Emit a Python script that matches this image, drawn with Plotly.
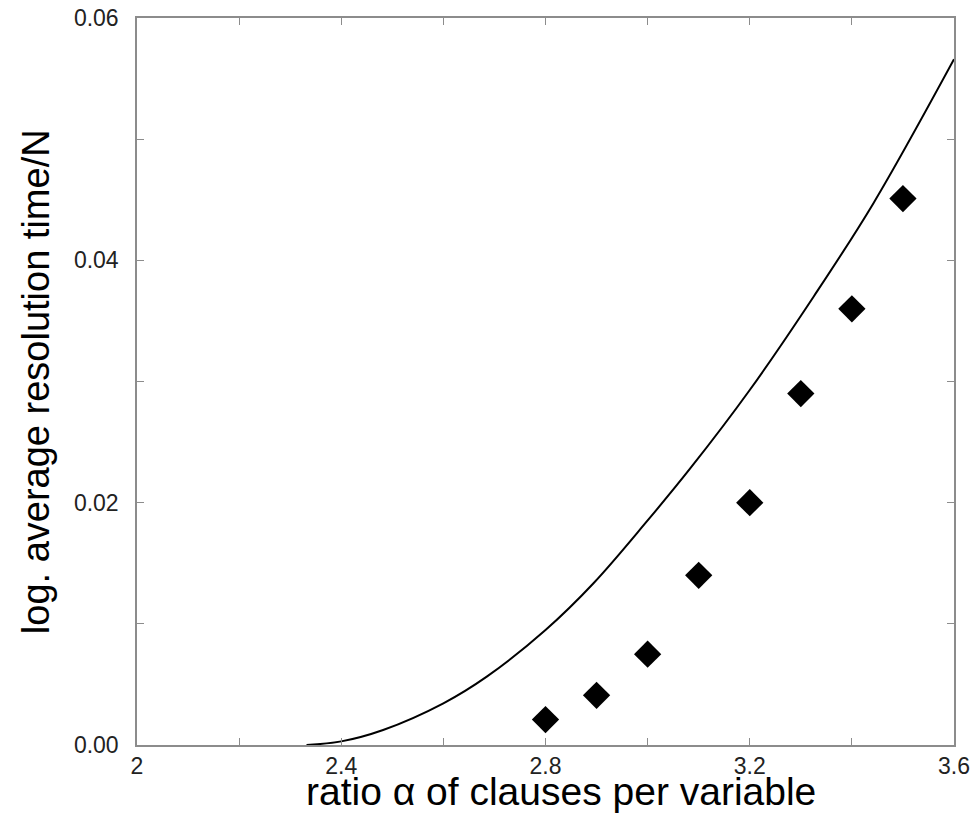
import plotly.graph_objects as go

# Measured data (diamonds)
alpha_points = [2.8, 2.9, 3.0, 3.1, 3.2, 3.3, 3.4, 3.5]
time_points = [0.0021, 0.0041, 0.0075, 0.0140, 0.0200, 0.0290, 0.0360, 0.0451]

# Theoretical curve
alpha_curve = [2.332, 2.40, 2.482, 2.60, 2.685, 2.80, 2.894, 2.998, 3.083, 3.20, 3.325, 3.442, 3.60]
time_curve = [0.0000, 0.0003, 0.00124, 0.00344, 0.00564, 0.00949, 0.01335, 0.01843, 0.0228, 0.0293, 0.0370, 0.0447, 0.0566]

x_ticks = [2, 2.4, 2.8, 3.2, 3.6]
x_ticklabels = ["2", "2.4", "2.8", "3.2", "3.6"]
y_ticks = [0.0, 0.02, 0.04, 0.06]
y_ticklabels = ["0.00", "0.02", "0.04", "0.06"]

x_title = "ratio \u03b1 of clauses per variable"
y_title = "log. average resolution time/N"

FONT = "Liberation Sans, Arial, sans-serif"

fig = go.Figure()
fig.add_trace(go.Scatter(
    x=alpha_curve, y=time_curve, mode="lines",
    line=dict(color="black", width=2, shape="spline", smoothing=1.0),
    showlegend=False, hoverinfo="skip"))
fig.add_trace(go.Scatter(
    x=alpha_points, y=time_points, mode="markers",
    marker=dict(symbol="diamond", size=21, color="black"),
    showlegend=False))

axis_common = dict(
    showline=True, linecolor="#8c8c8c", linewidth=1.5, mirror="ticks",
    ticks="inside", ticklen=7, tickcolor="#8c8c8c", tickwidth=1,
    showgrid=False, zeroline=False, automargin=False,
    tickfont=dict(family=FONT, size=23, color="#222"),
)

fig.update_layout(
    width=975, height=817,
    margin=dict(l=137, r=21, t=18, b=72),
    paper_bgcolor="white", plot_bgcolor="white",
    xaxis=dict(
        range=[2, 3.6], tickvals=x_ticks, ticktext=x_ticklabels,
        minor=dict(dtick=0.2, tick0=2, ticks="inside", ticklen=7, tickcolor="#8c8c8c"),
        ticklabelstandoff=0,
        **axis_common),
    yaxis=dict(
        range=[0, 0.06], tickvals=y_ticks, ticktext=y_ticklabels,
        minor=dict(dtick=0.01, tick0=0, ticks="inside", ticklen=7, tickcolor="#8c8c8c"),
        ticklabelstandoff=12,
        **axis_common),
    annotations=[
        dict(text=x_title, xref="paper", yref="paper", x=0.519, y=-0.0646,
             xanchor="center", yanchor="middle", showarrow=False,
             font=dict(family=FONT, size=39, color="black")),
        dict(text=y_title, xref="paper", yref="paper", x=-0.124, y=0.5,
             xanchor="center", yanchor="middle", showarrow=False, textangle=-90,
             font=dict(family=FONT, size=38, color="black")),
    ],
)

fig.write_html("out.html")
